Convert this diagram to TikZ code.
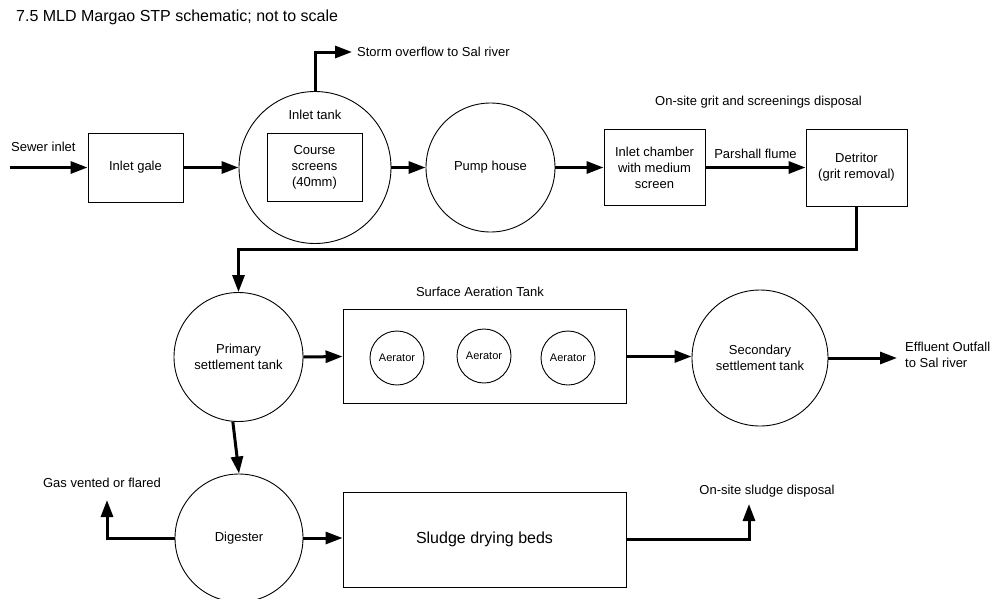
\documentclass[tikz,border=0pt]{standalone}
\usepackage{fontspec}
\setmainfont{Liberation Sans}
\usetikzlibrary{arrows.meta,calc}
\newcommand\labfont{\fontsize{13}{16}\selectfont}
\newcommand\smallfont{\fontsize{11}{13}\selectfont}
\newcommand\bigfont{\fontsize{16}{19}\selectfont}
\tikzset{
  unitbox/.style={draw, rectangle, line width=0.9pt, inner sep=0pt, align=center, font=\labfont},
  tank/.style={draw, circle, line width=0.9pt, inner sep=0pt, align=center, font=\labfont},
  lbl/.style={inner sep=0pt, font=\labfont, align=center},
  flow/.style={line width=3pt, -{Triangle[length=17pt,width=12pt]}},
  pipe/.style={line width=3pt}
}
\begin{document}
\begin{tikzpicture}[x=1pt,y=-1pt]
\useasboundingbox (0,0) rectangle (997,598);

% title
\node[anchor=west, inner sep=0pt, font=\bigfont] (title) at (16,17) {7.5 MLD Margao STP schematic; not to scale};

% ---------- headworks row ----------
\coordinate (sewer) at (10,167.5);
\node[lbl, anchor=west] (sewerlbl) at (11,147) {Sewer inlet};
\node[unitbox, minimum width=95, minimum height=69] (gate) at (135.5,167.5) {Inlet gale};

\node[tank, minimum size=152] (inlet) at (315,167.5) {};
\node[lbl] (inletlbl) at (315,115) {Inlet tank};
\node[unitbox, minimum width=95, minimum height=68] (screens) at (314.5,167.5) {Course\\screens\\(40mm)};
\coordinate (storm) at (352,52);
\node[lbl, anchor=west] (stormlbl) at (357,52) {Storm overflow to Sal river};

\node[tank, minimum size=129] (pump) at (490.5,167.5) {Pump house};
\node[unitbox, minimum width=101, minimum height=76] (chamber) at (654.5,167.5) {Inlet chamber\\with medium\\screen};
\node[unitbox, minimum width=101, minimum height=77] (detritor) at (856.5,167.5) {Detritor\\(grit removal)};
\node[lbl] (gritlbl) at (758.5,102) {On-site grit and screenings disposal};

\draw[flow] (sewer) -- (gate.west);
\draw[flow] (gate.east) -- (inlet.west);
\draw[flow] (inlet.north) |- (storm);
\draw[flow] (inlet.east) -- (pump.west);
\draw[flow] (pump.east) -- (chamber.west);
\draw[flow] (chamber.east) -- node[lbl, above=7pt] (flume) {Parshall flume} (detritor.west);

% ---------- secondary treatment row ----------
\node[tank, minimum size=129] (primary) at (238.5,357) {Primary\\settlement tank};
\node[unitbox, minimum width=283, minimum height=94] (aeration) at (484.5,356.5) {};
\node[lbl] (aerlbl) at (480,292) {Surface Aeration Tank};
\node[tank, minimum size=54, font=\smallfont] (aer1) at (397,358) {Aerator};
\node[tank, minimum size=54, font=\smallfont] (aer2) at (484,356) {Aerator};
\node[tank, minimum size=54, font=\smallfont] (aer3) at (568,358) {Aerator};
\node[tank, minimum size=136] (secondary) at (760,358) {Secondary\\settlement tank};
\coordinate (outfall) at (897,358);
\node[lbl, anchor=west, align=left] (outlbl) at (905,355) {Effluent Outfall\\to Sal river};

\coordinate (bend) at (856.5,249);
\draw[flow] (detritor.south) -- (bend) -| (primary.north);
\draw[flow] (primary.east) -- (aeration.west);
\draw[flow] (aeration.east) -- (aeration.east -| secondary.west);
\draw[flow] (secondary.east) -- (outfall);

% ---------- sludge row ----------
\node[tank, minimum size=128] (digester) at (239,538) {Digester};
\node[unitbox, minimum width=283, minimum height=95, font=\bigfont] (beds) at (484.5,539.5) {Sludge drying beds};
\coordinate (gas) at (107,500);
\node[lbl] (gaslbl) at (102,483) {Gas vented or flared};
\coordinate (sludge) at (749,504);
\node[lbl] (sludgelbl) at (767,491) {On-site sludge disposal};

\draw[flow] (primary.265) -- (digester.north);
\draw[flow] (digester.west) -| (gas);
\draw[flow] (digester.east) -- (digester.east -| beds.west);
\draw[flow] (beds.east) -| (sludge);
\end{tikzpicture}
\end{document}
